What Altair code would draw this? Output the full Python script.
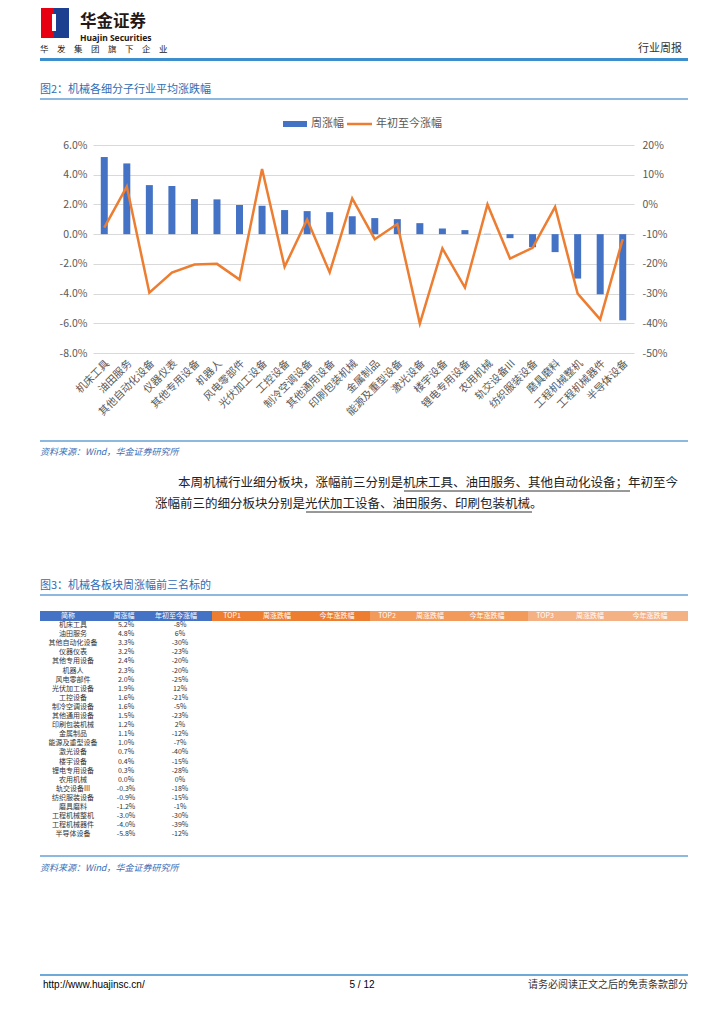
import altair as alt
import pandas as pd

# ---------------- data ----------------
categories = ["机床工具", "油田服务", "其他自动化设备", "仪器仪表", "其他专用设备", "机器人",
              "风电零部件", "光伏加工设备", "工控设备", "制冷空调设备", "其他通用设备", "印刷包装机械",
              "金属制品", "能源及重型设备", "激光设备", "楼宇设备", "锂电专用设备", "农用机械",
              "轨交设备III", "纺织服装设备", "磨具磨料", "工程机械整机", "工程机械器件", "半导体设备"]
weekly = [5.19, 4.76, 3.30, 3.24, 2.36, 2.34, 1.96, 1.91, 1.62, 1.55, 1.48, 1.21,
          1.08, 1.01, 0.74, 0.38, 0.27, 0.02, -0.27, -0.88, -1.21, -2.99, -4.05, -5.80]
ytd = [-7.8, 6.0, -29.7, -22.9, -20.2, -20.0, -25.3, 11.9, -21.0, -5.1, -22.9, 2.0,
       -11.7, -6.6, -40.1, -14.8, -28.0, 0.0, -18.2, -14.6, -0.8, -30.0, -38.7, -11.7]
left_ticks = [-8, -6, -4, -2, 0, 2, 4, 6]
right_ticks = [-50, -40, -30, -20, -10, 0, 10, 20]
table_headers = ["简称", "周涨幅", "年初至今涨幅", "TOP1", "周涨跌幅", "今年涨跌幅",
                 "TOP2", "周涨跌幅", "今年涨跌幅", "TOP3", "周涨跌幅", "今年涨跌幅"]

df = pd.DataFrame({"cat": categories, "wk": weekly, "ytd": ytd})

CJK = "Noto Sans CJK SC"
OX, OY = 93, 145          # page position of the plot origin
W, H = 541, 208
BLUE = "#4472C4"
ORANGE = "#ED7D31"
GRAY = "#595959"

one = pd.DataFrame({"k": [0]})


def T(s, x, y, size=11, color="#000000", align="left", weight="normal", font=CJK, style="normal"):
    return alt.Chart(one).mark_text(text=s, align=align, baseline="middle", fontSize=size, color=color,
                                    font=font, fontWeight=weight, fontStyle=style).encode(
        x=alt.value(x - OX), y=alt.value(y - OY))


def HR(x1, x2, y, color, w):
    return alt.Chart(one).mark_rule(color=color, strokeWidth=w).encode(
        x=alt.value(x1 - OX), x2=alt.value(x2 - OX), y=alt.value(y - OY))


def RECT(x1, x2, y1, y2, color):
    return alt.Chart(one).mark_rect(color=color).encode(
        x=alt.value(x1 - OX), x2=alt.value(x2 - OX), y=alt.value(y1 - OY), y2=alt.value(y2 - OY))


xenc = alt.X("cat:N", sort=categories, scale=alt.Scale(paddingInner=0, paddingOuter=0),
             axis=alt.Axis(title=None, labelAngle=-45, domain=False, ticks=False, grid=False,
                           labelFont=CJK, labelFontSize=10.5, labelColor=GRAY, labelPadding=5,
                           labelLimit=200))

bars = alt.Chart(df).mark_bar(size=7, color=BLUE).encode(
    x=xenc,
    y=alt.Y("wk:Q", scale=alt.Scale(domain=[-8, 6], nice=False, zero=False),
            axis=alt.Axis(orient="left", values=left_ticks, title=None, domain=False, ticks=False,
                          grid=True, gridColor="#D9D9D9", gridWidth=1,
                          labelExpr="replace(format(datum.value, '.1f'), '\u2212', '-') + '%'",
                          labelFont=CJK, labelFontSize=10.5, labelColor=GRAY, labelPadding=6)))

line = alt.Chart(df).mark_line(color=ORANGE, strokeWidth=2.5, strokeJoin="miter").encode(
    x=xenc,
    y=alt.Y("ytd:Q", scale=alt.Scale(domain=[-50, 20], nice=False, zero=False),
            axis=alt.Axis(orient="right", values=right_ticks, title=None, domain=False, ticks=False,
                          grid=False,
                          labelExpr="replace(format(datum.value, 'd'), '\u2212', '-') + '%'",
                          labelFont=CJK, labelFontSize=10.5, labelColor=GRAY, labelPadding=8)))

# table (figure 3, first columns)
row_range = [620.5 - OY, 838.9 - OY]


def table_col(field, xc):
    return alt.Chart(df).transform_calculate(
        wk_s="replace(format(datum.wk, '.1f'), '\u2212', '-') + '%'",
        ytd_s="replace(format(datum.ytd, '.0f'), '\u2212', '-') + '%'"
    ).mark_text(font=CJK, fontSize=7, color="#333333", align="center", baseline="middle").encode(
        x=alt.value(xc - OX),
        y=alt.Y("cat:N", sort=categories,
                scale=alt.Scale(range=row_range, paddingInner=0, paddingOuter=0), axis=None),
        text=alt.Text(field + ":N"))


decor = [
    # header
    RECT(41, 54, 8, 38, "#E60012"),
    RECT(54, 69, 8, 38, "#1D3F8F"),
    RECT(52, 56, 14, 31, "#FFFFFF"),
    T("华金证券", 80, 22, size=16.5, weight="bold", color="#231815"),
    T("Huajin Securities", 80, 37.5, size=8.5, weight="bold", color="#231815", font="Noto Sans"),
    T("华　发　集　团　旗　下　企　业", 40, 49, size=8.5, color="#231815"),
    T("行业周报", 682, 49, size=11, color="#333333", align="right"),
    HR(40, 688, 59.5, "#3D8ECC", 3),
    # figure 2 title
    T("图2：机械各细分子行业平均涨跌幅", 40, 90, size=11, color="#2F6CB3"),
    HR(40, 688, 99, "#8DB8E0", 2),
    # legend
    RECT(283, 307, 121, 127, BLUE),
    T("周涨幅", 311, 124, size=11, color=GRAY),
    HR(347, 372, 124, ORANGE, 2.5),
    T("年初至今涨幅", 376, 124, size=11, color=GRAY),
    # source
    HR(40, 688, 441, "#8DB8E0", 2),
    T("资料来源：Wind，华金证券研究所", 40, 452, size=9, color="#3A6DB5", style="italic"),
    # paragraph
    T("本周机械行业细分板块，涨幅前三分别是机床工具、油田服务、其他自动化设备；年初至今", 178, 483,
      size=12.5, color="#222222"),
    T("涨幅前三的细分板块分别是光伏加工设备、油田服务、印刷包装机械。", 155, 504,
      size=12.5, color="#222222"),
    HR(404, 630, 491, "#333333", 1),
    HR(306, 532, 512, "#333333", 1),
    # figure 3 title
    T("图3：机械各板块周涨幅前三名标的", 40, 586, size=11, color="#2F6CB3"),
    HR(40, 688, 595, "#8DB8E0", 2),
    # table header bands
    RECT(40, 212, 611, 621, "#4472C4"),
    RECT(212, 370, 611, 621, "#ED7D31"),
    RECT(370, 528, 611, 621, "#F19A5A"),
    RECT(528, 688, 611, 621, "#F4B183"),
]
header_x = [68, 124, 176, 232, 277, 337, 387, 430, 487, 545, 590, 650]
for h, hx in zip(table_headers, header_x):
    decor.append(T(h, hx, 616, size=7, color="#FFFFFF", align="center"))

decor += [
    HR(40, 688, 856, "#8DB8E0", 2),
    T("资料来源：Wind，华金证券研究所", 40, 868, size=9, color="#3A6DB5", style="italic"),
    # footer
    HR(40, 688, 975, "#3D8ECC", 1.5),
    T("http://www.huajinsc.cn/", 43, 985, size=10, color="#000000", font="Liberation Sans"),
    T("5 / 12", 362, 985, size=10, color="#000000", font="Liberation Sans", align="center"),
    T("请务必阅读正文之后的免责条款部分", 688, 985, size=10, color="#333333", align="right"),
]

tables = [table_col("cat", 73), table_col("wk_s", 126), table_col("ytd_s", 180)]

chart = alt.layer(bars, line, *tables, *decor).resolve_scale(y="independent").properties(
    width=W, height=H,
    autosize=alt.AutoSizeParams(type="none"),
    padding={"left": OX - 8, "top": OY - 8, "right": 708 - (OX - 8) - W, "bottom": 1004 - (OY - 8) - H},
    background="#FFFFFF",
).configure_view(stroke=None)

chart.save("out.html", embed_options={"renderer": "svg", "actions": False})
